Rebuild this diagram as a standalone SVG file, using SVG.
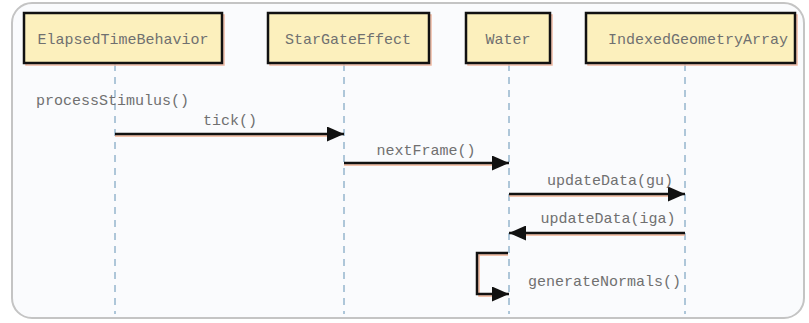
<svg xmlns="http://www.w3.org/2000/svg" width="809" height="323" viewBox="0 0 809 323">
<defs>
<style>
.t{font-family:"Liberation Mono","Courier New",monospace;font-size:15px;fill:#707070;}
.box{fill:#fcf0bd;stroke:#111;stroke-width:2.5;}
.bsh{fill:none;stroke:#f0b8a0;stroke-width:1.5;}
.life{stroke:#9cbad0;stroke-width:1.6;stroke-dasharray:7,6;fill:none;}
.msg{stroke:#111;stroke-width:2.5;fill:none;}
.msh{stroke:#f0b090;stroke-width:1.5;fill:none;}
</style>
<marker id="ah" markerWidth="17" markerHeight="15" refX="17" refY="7.5" orient="auto" markerUnits="userSpaceOnUse">
<path d="M0,0 L17,7.5 L0,15 Z" fill="#111"/>
</marker>
</defs>
<rect x="0" y="0" width="809" height="323" fill="#ffffff"/>
<rect x="12" y="3" width="792" height="315" rx="20" ry="20" fill="#fafbfd" stroke="#c4c4c4" stroke-width="2"/>
<g id="lifelines">
<line class="life" x1="115" y1="64" x2="115" y2="314"/>
<line class="life" x1="344" y1="64" x2="344" y2="314"/>
<line class="life" x1="509" y1="64" x2="509" y2="314"/>
<line class="life" x1="685" y1="64" x2="685" y2="314"/>
</g>
<g id="ElapsedTimeBehavior">
<rect class="bsh" x="26" y="15" width="198" height="50"/>
<rect class="box" x="24" y="13" width="198" height="50"/>
<text class="t" x="123" y="44" text-anchor="middle">ElapsedTimeBehavior</text>
</g>
<g id="StarGateEffect">
<rect class="bsh" x="270" y="15" width="161" height="50"/>
<rect class="box" x="268" y="13" width="161" height="50"/>
<text class="t" x="348" y="44" text-anchor="middle">StarGateEffect</text>
</g>
<g id="Water">
<rect class="bsh" x="468" y="15" width="84" height="50"/>
<rect class="box" x="466" y="13" width="84" height="50"/>
<text class="t" x="508" y="44" text-anchor="middle">Water</text>
</g>
<g id="IndexedGeometryArray">
<rect class="bsh" x="588" y="15" width="209" height="50"/>
<rect class="box" x="586" y="13" width="209" height="50"/>
<text class="t" x="698" y="44" text-anchor="middle">IndexedGeometryArray</text>
</g>
<g id="connectors">
<text class="t" x="36" y="105">processStimulus()</text>
<line class="msh" x1="115" y1="136" x2="338" y2="136"/>
<line class="msg" x1="115" y1="134" x2="344" y2="134" marker-end="url(#ah)"/>
<text class="t" x="230" y="125" text-anchor="middle">tick()</text>
<line class="msh" x1="344" y1="165" x2="503" y2="165"/>
<line class="msg" x1="344" y1="163" x2="509" y2="163" marker-end="url(#ah)"/>
<text class="t" x="426" y="155" text-anchor="middle">nextFrame()</text>
<line class="msh" x1="509" y1="196" x2="679" y2="196"/>
<line class="msg" x1="509" y1="194" x2="685" y2="194" marker-end="url(#ah)"/>
<text class="t" x="610" y="185" text-anchor="middle">updateData(gu)</text>
<line class="msh" x1="515" y1="235" x2="685" y2="235"/>
<line class="msg" x1="685" y1="233" x2="509" y2="233" marker-end="url(#ah)"/>
<text class="t" x="608" y="223" text-anchor="middle">updateData(iga)</text>
<path class="msh" d="M508,255 L479,255 L479,296 L503,296"/>
<path class="msg" d="M508,253 L477,253 L477,294 L509,294" marker-end="url(#ah)"/>
<text class="t" x="528" y="286">generateNormals()</text>
</g>
</svg>
